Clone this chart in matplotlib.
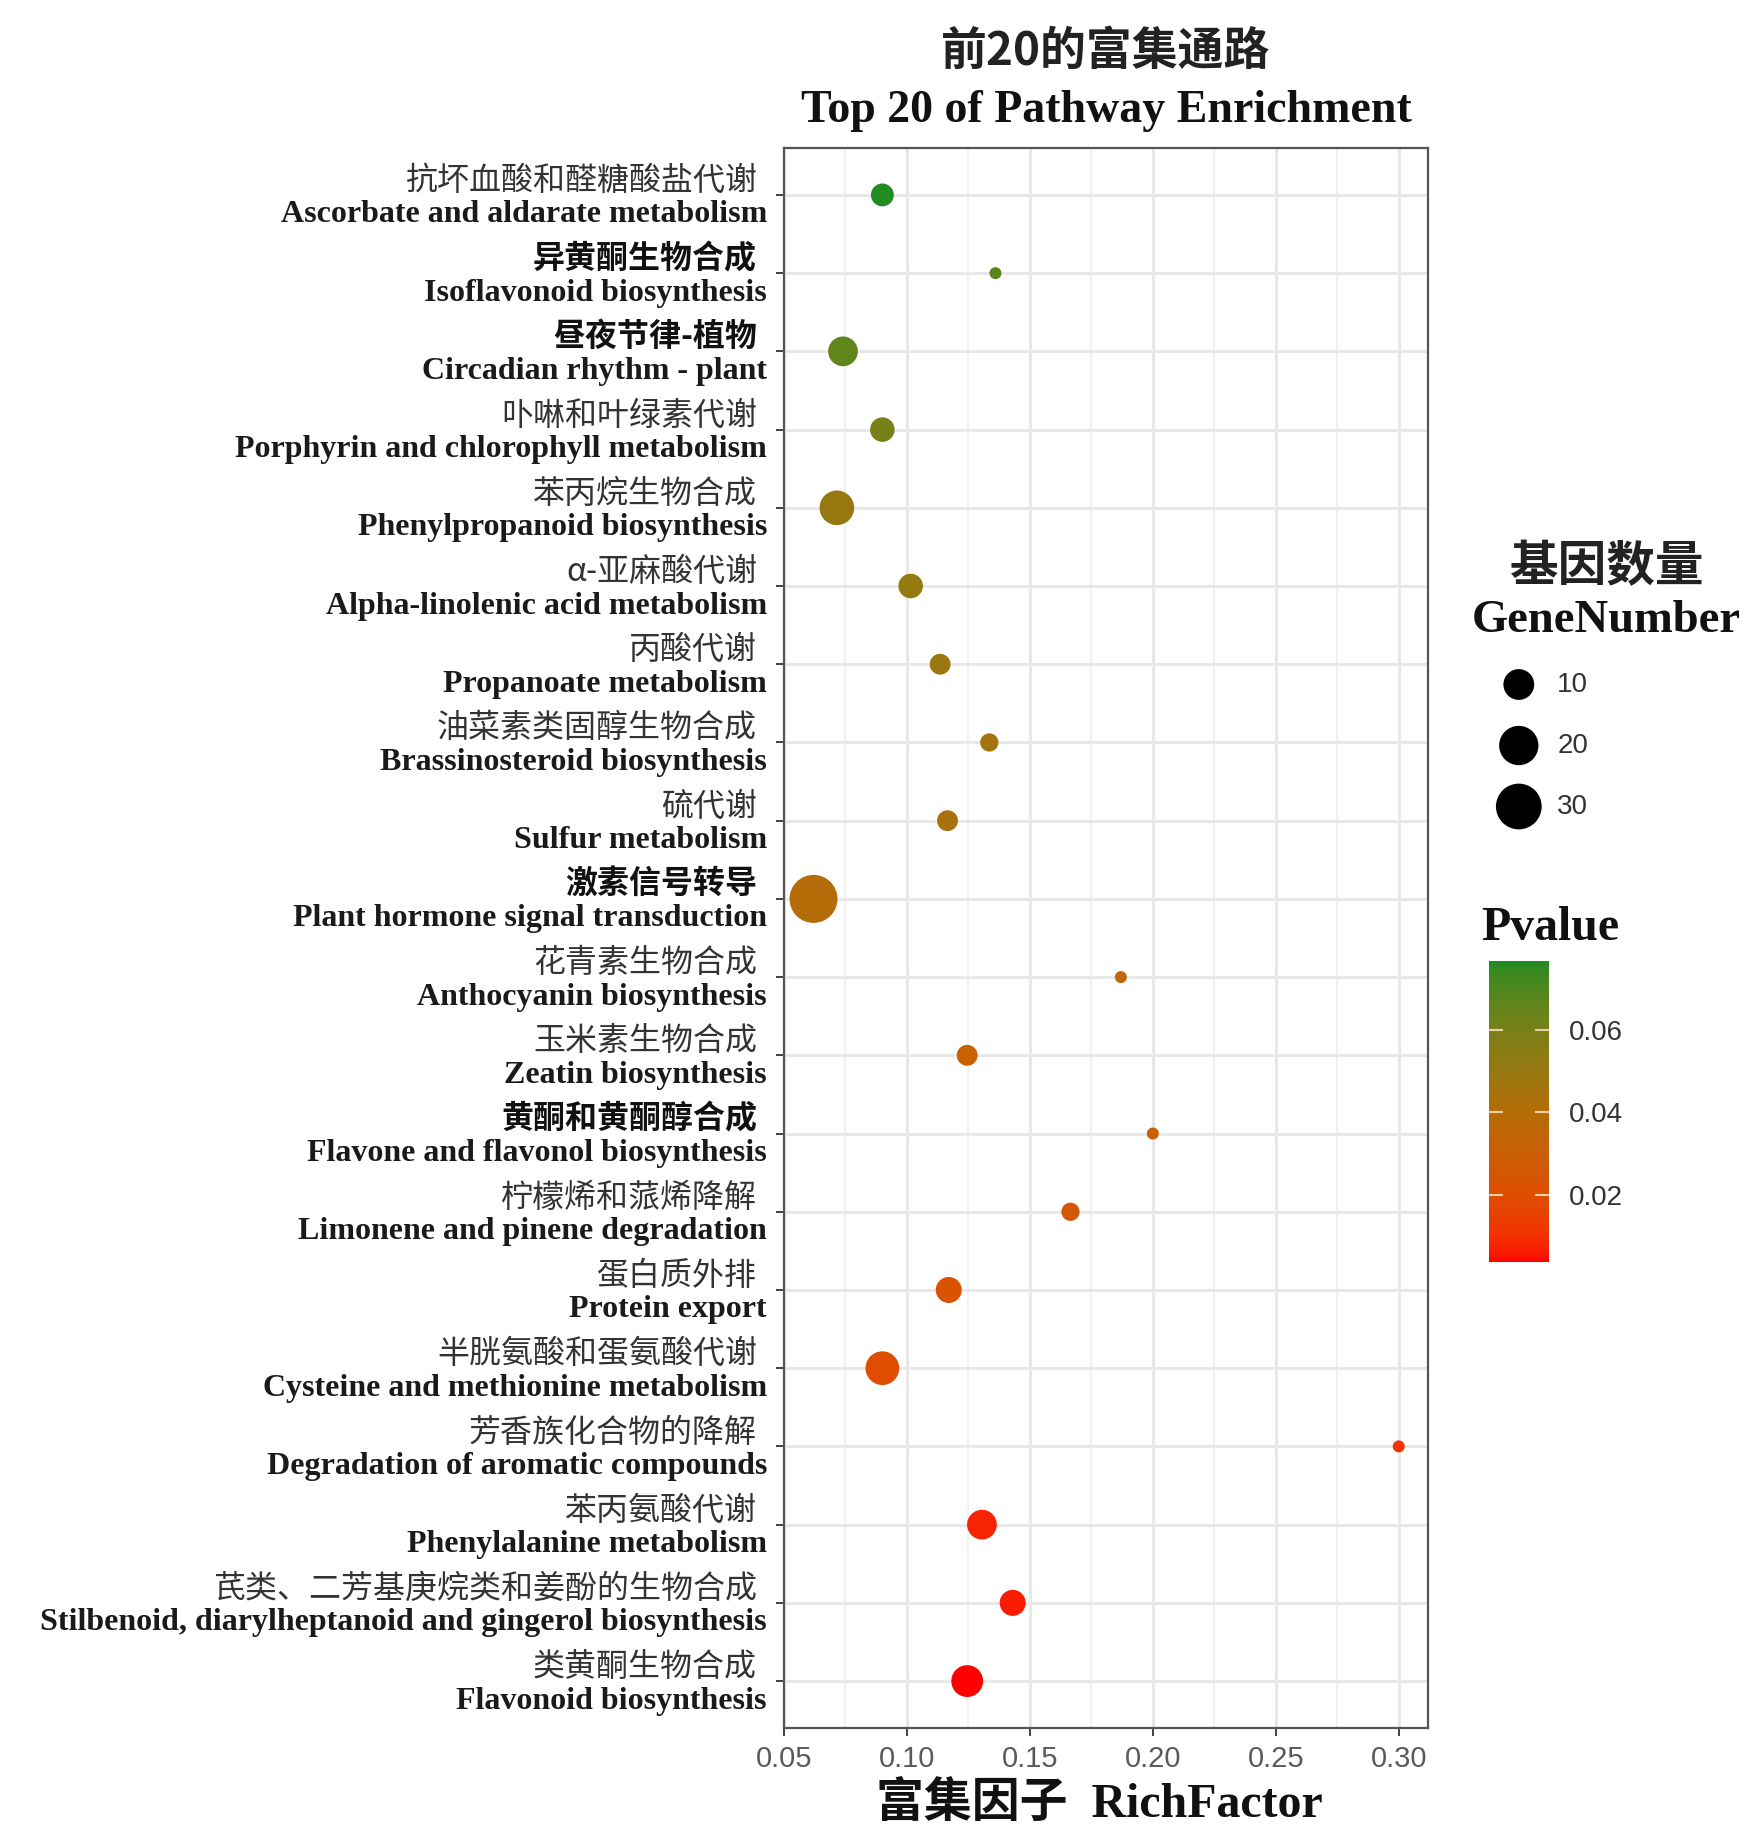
import numpy as np
import matplotlib
matplotlib.use('Agg')
import matplotlib.pyplot as plt
import matplotlib.transforms as mtransforms
from matplotlib.colors import ListedColormap, Normalize
from matplotlib.colorbar import ColorbarBase

# pathways, top to bottom
pathway_cn = ['抗坏血酸和醛糖酸盐代谢', '异黄酮生物合成', '昼夜节律-植物', '卟啉和叶绿素代谢',
              '苯丙烷生物合成', 'α-亚麻酸代谢', '丙酸代谢', '油菜素类固醇生物合成', '硫代谢',
              '激素信号转导', '花青素生物合成', '玉米素生物合成', '黄酮和黄酮醇合成',
              '柠檬烯和蒎烯降解', '蛋白质外排', '半胱氨酸和蛋氨酸代谢', '芳香族化合物的降解',
              '苯丙氨酸代谢', '芪类、二芳基庚烷类和姜酚的生物合成', '类黄酮生物合成']
pathway_en = ['Ascorbate and aldarate metabolism', 'Isoflavonoid biosynthesis',
              'Circadian rhythm - plant', 'Porphyrin and chlorophyll metabolism',
              'Phenylpropanoid biosynthesis', 'Alpha-linolenic acid metabolism',
              'Propanoate metabolism', 'Brassinosteroid biosynthesis', 'Sulfur metabolism',
              'Plant hormone signal transduction', 'Anthocyanin biosynthesis',
              'Zeatin biosynthesis', 'Flavone and flavonol biosynthesis',
              'Limonene and pinene degradation', 'Protein export',
              'Cysteine and methionine metabolism', 'Degradation of aromatic compounds',
              'Phenylalanine metabolism',
              'Stilbenoid, diarylheptanoid and gingerol biosynthesis', 'Flavonoid biosynthesis']
cn_bold = [False, True, True, False, False, False, False, False, False, True,
           False, False, True, False, False, False, False, False, False, False]

rich_factor = [0.090, 0.136, 0.074, 0.090, 0.0715, 0.1015, 0.1135, 0.1335, 0.1165, 0.062,
               0.187, 0.1245, 0.200, 0.1665, 0.117, 0.090, 0.300, 0.1305, 0.143, 0.1245]
gene_number = [4, 1, 9, 5, 14, 5, 3, 2, 3, 34, 1, 3, 1, 2, 6, 13, 1, 9, 6, 11]
p_value = [0.0766, 0.068, 0.066, 0.060, 0.050, 0.051, 0.049, 0.046, 0.044, 0.040,
           0.036, 0.031, 0.030, 0.026, 0.023, 0.020, 0.011, 0.0072, 0.006, 0.0037]

x_ticks = [0.05, 0.10, 0.15, 0.20, 0.25, 0.30]
size_breaks = [10, 20, 30]
p_ticks = [0.02, 0.04, 0.06]

DPI = 100
SERIF = ['Liberation Serif', 'Noto Sans CJK SC']
CJK = ['Noto Sans CJK SC', 'Liberation Serif']
SANS = ['Liberation Sans', 'DejaVu Sans']


# colour ramp interpolated in Lab space
def srgb_to_lab(hexcol):
    rgb = np.array([int(hexcol[k:k + 2], 16) / 255 for k in (1, 3, 5)])
    c = np.where(rgb <= 0.04045, rgb / 12.92, ((rgb + 0.055) / 1.055) ** 2.4)
    M = np.array([[0.4124, 0.3576, 0.1805], [0.2126, 0.7152, 0.0722], [0.0193, 0.1192, 0.9505]])
    xyz = M @ c / np.array([0.95047, 1.0, 1.08883])
    f = np.where(xyz > 0.008856, np.cbrt(xyz), 7.787 * xyz + 16 / 116)
    return np.array([116 * f[1] - 16, 500 * (f[0] - f[1]), 200 * (f[1] - f[2])])


def lab_to_srgb(lab):
    L, a, b = lab
    fy = (L + 16) / 116
    f = np.array([fy + a / 500, fy, fy - b / 200])
    xyz = np.where(f ** 3 > 0.008856, f ** 3, (f - 16 / 116) / 7.787) * np.array([0.95047, 1.0, 1.08883])
    Minv = np.array([[3.2406, -1.5372, -0.4986], [-0.9689, 1.8758, 0.0415], [0.0557, -0.2040, 1.0570]])
    c = np.clip(Minv @ xyz, 0, 1)
    return np.where(c <= 0.0031308, 12.92 * c, 1.055 * c ** (1 / 2.4) - 0.055).clip(0, 1)


ramp = [srgb_to_lab(h) for h in ('#FF0000', '#B46C08', '#228B22')]
cols = []
for t in np.linspace(0, 1, 256):
    if t < 0.5:
        lab = ramp[0] + (ramp[1] - ramp[0]) * (t / 0.5)
    else:
        lab = ramp[1] + (ramp[2] - ramp[1]) * ((t - 0.5) / 0.5)
    cols.append(lab_to_srgb(lab))
cmap = ListedColormap(cols)
norm = Normalize(vmin=min(p_value), vmax=max(p_value))


def dot_size(n):
    d_px = 12 + 36 * np.sqrt((np.asarray(n, float) - 1) / 33)
    return (d_px * 72 / DPI) ** 2


fig = plt.figure(figsize=(17.48, 18.26), dpi=DPI)
W, H = 1748, 1826
ax = fig.add_axes([784 / W, 1 - 1728 / H, 644 / W, 1580 / H])

y = np.arange(len(pathway_en))
xmin, xmax = min(rich_factor), max(rich_factor)
pad = (xmax - xmin) * 0.05
ax.set_xlim(xmin - pad, xmax + pad)
ax.set_ylim(len(y) - 0.4, -0.6)

ax.set_xticks(x_ticks)
ax.set_xticklabels(['%.2f' % t for t in x_ticks], family=SANS, fontsize=21, color='#5a5a5a')
ax.set_xticks(np.arange(0.075, 0.31, 0.05), minor=True)
ax.set_yticks(y)
ax.set_yticklabels([])
ax.tick_params(axis='both', which='major', length=6, width=1.3, color='#333333')
ax.tick_params(axis='x', which='minor', length=0)
ax.tick_params(axis='x', pad=6)
ax.grid(True, which='major', color='#E8E8E8', lw=2.2, zorder=0)
ax.grid(True, which='minor', axis='x', color='#F0F0F0', lw=1.3, zorder=0)
ax.set_axisbelow(True)
for sp in ax.spines.values():
    sp.set_color('#555555')
    sp.set_linewidth(1.6)

ax.scatter(rich_factor, y, s=dot_size(gene_number), c=p_value, cmap=cmap, norm=norm,
           linewidths=0, zorder=3)

# two-line category labels: Chinese above, English below
base = mtransforms.blended_transform_factory(ax.transAxes, ax.transData)
cn_tr = mtransforms.offset_copy(base, fig=fig, x=-27, y=14, units='dots')
en_tr = mtransforms.offset_copy(base, fig=fig, x=-17, y=-20, units='dots')
for i in y:
    ax.text(0, i, pathway_cn[i], transform=cn_tr, ha='right', va='center',
            family=CJK, fontsize=23, fontweight='bold' if cn_bold[i] else 'normal',
            color='#111111' if cn_bold[i] else '#333333')
    ax.text(0, i, pathway_en[i], transform=en_tr, ha='right', va='center',
            family=SERIF, fontsize=23, fontweight='bold', color='#1a1a1a')

# titles
fig.text(1106 / W, 1 - 52 / H, '前20的富集通路', ha='center', va='center',
         family=CJK, fontsize=33, fontweight='bold', color='#222222')
fig.text(1106 / W, 1 - 111 / H, 'Top 20 of Pathway Enrichment', ha='center', va='center',
         family=SERIF, fontsize=33, fontweight='bold', color='#111111')
fig.text(1099 / W, 1 - 1805 / H, '富集因子  RichFactor', ha='center', va='center',
         family=SERIF, fontsize=34.5, fontweight='bold', color='#111111')

# size legend
fig.text(1607 / W, 1 - 567 / H, '基因数量', ha='center', va='center',
         family=CJK, fontsize=35, fontweight='bold', color='#222222')
fig.text(1606 / W, 1 - 621 / H, 'GeneNumber', ha='center', va='center',
         family=SERIF, fontsize=33.5, fontweight='bold', color='#111111')
lax = fig.add_axes([1490 / W, 1 - 837 / H, 120 / W, 183 / H])
lax.set_xlim(0, 1)
lax.set_ylim(3, 0)
lax.axis('off')
lax.scatter([0.24] * 3, [0.5, 1.5, 2.5], s=dot_size(size_breaks), c='black', linewidths=0)
for k, b in enumerate(size_breaks):
    lax.text(0.56, k + 0.5, str(b), ha='left', va='center', family=SANS, fontsize=20,
             color='#333333')

# colour bar
fig.text(1481 / W, 1 - 928 / H, 'Pvalue', ha='left', va='center',
         family=SERIF, fontsize=34.5, fontweight='bold', color='#111111')
cax = fig.add_axes([1489 / W, 1 - 1262 / H, 60 / W, 301 / H])
cb = ColorbarBase(cax, cmap=cmap, norm=norm, orientation='vertical')
cb.outline.set_visible(False)
cb.set_ticks(p_ticks)
cb.set_ticklabels(['%.2f' % t for t in p_ticks])
cax.yaxis.set_ticks_position('both')
cax.tick_params(direction='in', length=10, width=1.5, color='#f0d0a0',
                labelleft=False, labelright=True, labelsize=20, labelcolor='#333333', pad=14)
for lbl in cax.get_yticklabels():
    lbl.set_family(SANS)

fig.savefig('out.png', dpi=DPI, facecolor='white')
